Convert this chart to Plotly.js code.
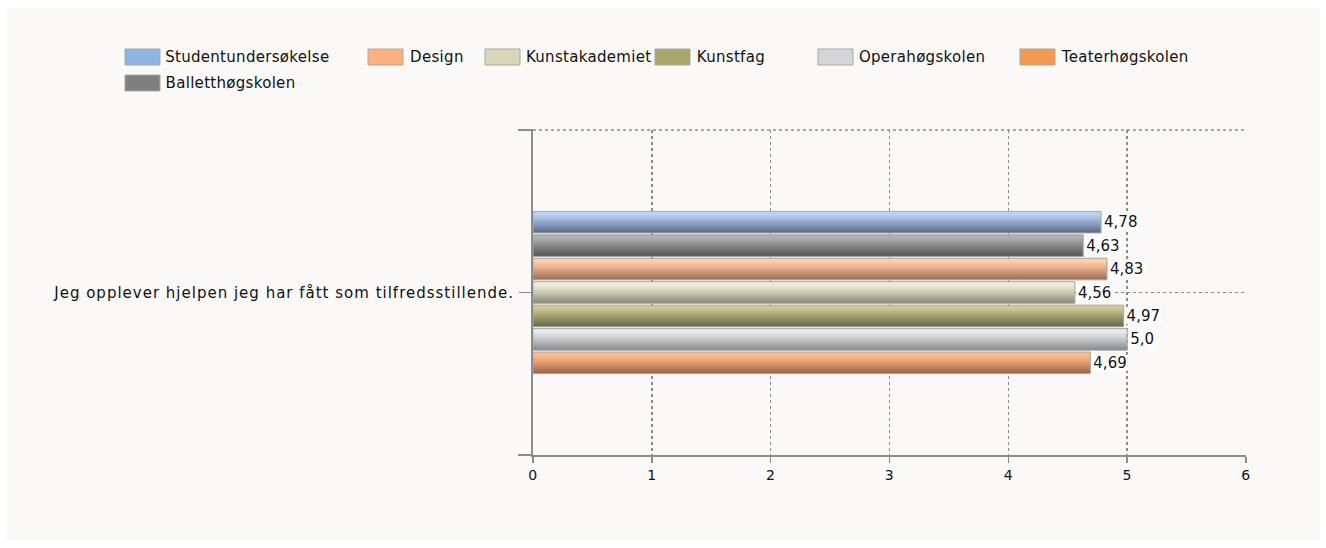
<!DOCTYPE html>
<html>
<head>
<meta charset="utf-8">
<script src="https://cdn.plot.ly/plotly-3.0.1.min.js"></script>
<style>
html,body{margin:0;padding:0;background:#ffffff;}
#chart{width:1326px;height:548px;}
#chart .ytick text{letter-spacing:1px;}
#chart .annotation-text{letter-spacing:0.3px;}
#chart .xtick text{letter-spacing:0.5px;}
</style>
</head>
<body>
<div id="chart"></div>
<script>
// ---- data ----
var category = ["Jeg opplever hjelpen jeg har fått som tilfredsstillende."];
// bar order from top to bottom
var seriesNames = ["Studentundersøkelse","Balletthøgskolen","Design","Kunstakademiet","Kunstfag","Operahøgskolen","Teaterhøgskolen"];
var seriesValues = [4.78, 4.63, 4.83, 4.56, 4.97, 5.0, 4.69];
// legend order
var legendOrder = ["Studentundersøkelse","Design","Kunstakademiet","Kunstfag","Operahøgskolen","Teaterhøgskolen","Balletthøgskolen"];
var xTickValues = [0,1,2,3,4,5,6];

// ---- styles ----
var barColors = {
  "Studentundersøkelse":"#96acd0",
  "Balletthøgskolen":"#8c8c8c",
  "Design":"#e8ad8a",
  "Kunstakademiet":"#d0cfb8",
  "Kunstfag":"#a8a575",
  "Operahøgskolen":"#cbccce",
  "Teaterhøgskolen":"#e6a070"
};
var barGradients = {
  "Studentundersøkelse":["#bcd0f0","#98aed2","#5a6880"],
  "Balletthøgskolen":["#b0b0b0","#8c8c8c","#555555"],
  "Design":["#ffcdab","#e8ad8a","#966c54"],
  "Kunstakademiet":["#eeeddb","#d0cfb8","#86867a"],
  "Kunstfag":["#cdca98","#a8a575","#666446"],
  "Operahøgskolen":["#e9eaec","#cbccce","#86878a"],
  "Teaterhøgskolen":["#ffbc8c","#e6a070","#946446"]
};
var swatchColors = {
  "Studentundersøkelse":"#8eb4e3",
  "Balletthøgskolen":"#7f7f7f",
  "Design":"#ffb07c",
  "Kunstakademiet":"#d8d8b8",
  "Kunstfag":"#a9a66c",
  "Operahøgskolen":"#d4d5d7",
  "Teaterhøgskolen":"#f39a50"
};
function fmt(v){
  var s = v.toFixed(2);
  if (s.charAt(s.length-1) === '0') s = s.slice(0,-1);
  return s.replace('.', ',');
}

var FONT = "DejaVu Sans, Verdana, sans-serif";
var traces = seriesNames.map(function(name, i){
  return {
    type:'bar', orientation:'h', name:name,
    y:category, x:[seriesValues[i]],
    text:[fmt(seriesValues[i])], textposition:'outside', cliponaxis:false,
    textfont:{family:FONT, size:15, color:'#111111'},
    marker:{color:barColors[name], line:{color:'#a6a6a6', width:1}},
    showlegend:false, hoverinfo:'x+name'
  };
});

// legend drawn as swatches + text (positions in layout only)
var legendPos = [[125,57],[368,57],[485,57],[655,57],[818,57],[1020,57],[125,83]];
var shapes = [];
var annotations = [];
var fy = function(py){ return 1 - (py - 130)/(455-130); };
var fx = function(px){ return (px - 533)/(1246-533); };
legendOrder.forEach(function(name, i){
  var p = legendPos[i];
  shapes.push({type:'rect', xref:'paper', yref:'paper',
    x0:fx(p[0]), x1:fx(p[0]+35), y0:fy(p[1]+8), y1:fy(p[1]-8),
    fillcolor:swatchColors[name], line:{color:'#a8a8a8', width:1}});
  annotations.push({xref:'paper', yref:'paper', x:fx(p[0]+41), y:fy(p[1]),
    xanchor:'left', yanchor:'middle', text:name, showarrow:false,
    font:{family:FONT, size:15, color:'#111111'}});
});
// top dotted border of plot area
shapes.push({type:'line', xref:'paper', yref:'paper', x0:0, x1:1, y0:1, y1:1,
  line:{color:'#8c8c8c', width:1.5, dash:'dot'}});
// left stubs of axes at top and bottom
shapes.push({type:'line', xref:'paper', yref:'paper', xsizemode:'pixel', xanchor:0,
  x0:-15, x1:0, y0:1, y1:1, line:{color:'#8c8c8c', width:2}});
shapes.push({type:'line', xref:'paper', yref:'paper', xsizemode:'pixel', xanchor:0,
  x0:-15, x1:0, y0:0, y1:0, line:{color:'#8c8c8c', width:2}});
// inner background panel
shapes.push({type:'rect', xref:'paper', yref:'paper', layer:'below',
  x0:fx(6), x1:fx(1320), y0:fy(540), y1:fy(8),
  fillcolor:'#faf9f7', line:{width:0}});

var layout = {
  width:1326, height:548,
  paper_bgcolor:'#ffffff', plot_bgcolor:'rgba(0,0,0,0)',
  margin:{l:533, r:80, t:130, b:93, pad:0},
  barmode:'group', bargap:0.495, bargroupgap:0.08,
  showlegend:false,
  font:{family:FONT, size:14, color:'#111111'},
  xaxis:{range:[0,6], tickvals:xTickValues, ticktext:xTickValues.map(String),
    showgrid:true, gridcolor:'#8c8c8c', griddash:'dot', gridwidth:1.5,
    zeroline:false, showline:true, linecolor:'#8c8c8c', linewidth:2,
    ticks:'outside', ticklen:6, tickcolor:'#8c8c8c', tickwidth:1.5,
    tickfont:{family:FONT, size:14, color:'#111111'}, fixedrange:true},
  yaxis:{autorange:'reversed', type:'category',
    showgrid:true, gridcolor:'#8c8c8c', griddash:'dot', gridwidth:1.5,
    showline:true, linecolor:'#8c8c8c', linewidth:2,
    ticks:'outside', ticklen:12, tickcolor:'#8c8c8c', tickwidth:1.5,
    tickfont:{family:FONT, size:15, color:'#111111'}, ticklabelstandoff:2, fixedrange:true},
  shapes:shapes,
  annotations:annotations
};

Plotly.newPlot('chart', traces, layout, {displayModeBar:false, staticPlot:true}).then(function(gd){
  // apply cylinder-like vertical gradients to the bars drawn by Plotly
  var NS = 'http://www.w3.org/2000/svg';
  var svg = gd.querySelector('svg.main-svg');
  var defs = svg.querySelector('defs') || svg.insertBefore(document.createElementNS(NS,'defs'), svg.firstChild);
  var traceGroups = gd.querySelectorAll('.barlayer .trace');
  traceGroups.forEach(function(tg, i){
    var name = seriesNames[i];
    var stops = barGradients[name];
    var g = document.createElementNS(NS, 'linearGradient');
    g.setAttribute('id', 'bargrad' + i);
    g.setAttribute('x1','0'); g.setAttribute('y1','0');
    g.setAttribute('x2','0'); g.setAttribute('y2','1');
    [[0,stops[0]],[0.15,stops[0]],[0.45,stops[1]],[1,stops[2]]].forEach(function(s){
      var st = document.createElementNS(NS, 'stop');
      st.setAttribute('offset', s[0]);
      st.setAttribute('stop-color', s[1]);
      g.appendChild(st);
    });
    defs.appendChild(g);
    tg.querySelectorAll('.point path').forEach(function(p){
      p.style.fill = 'url(#bargrad' + i + ')';
    });
    // white box behind the value label
    tg.querySelectorAll('.point text.bartext').forEach(function(t){
      var bb = t.getBBox();
      var r = document.createElementNS(NS, 'rect');
      r.setAttribute('x', bb.x - 1); r.setAttribute('y', bb.y + 1);
      r.setAttribute('width', bb.width + 2); r.setAttribute('height', bb.height - 2);
      var tr = t.getAttribute('transform');
      if (tr) r.setAttribute('transform', tr);
      r.setAttribute('fill', '#ffffff');
      t.parentNode.insertBefore(r, t);
    });
  });
});
</script>
</body>
</html>
